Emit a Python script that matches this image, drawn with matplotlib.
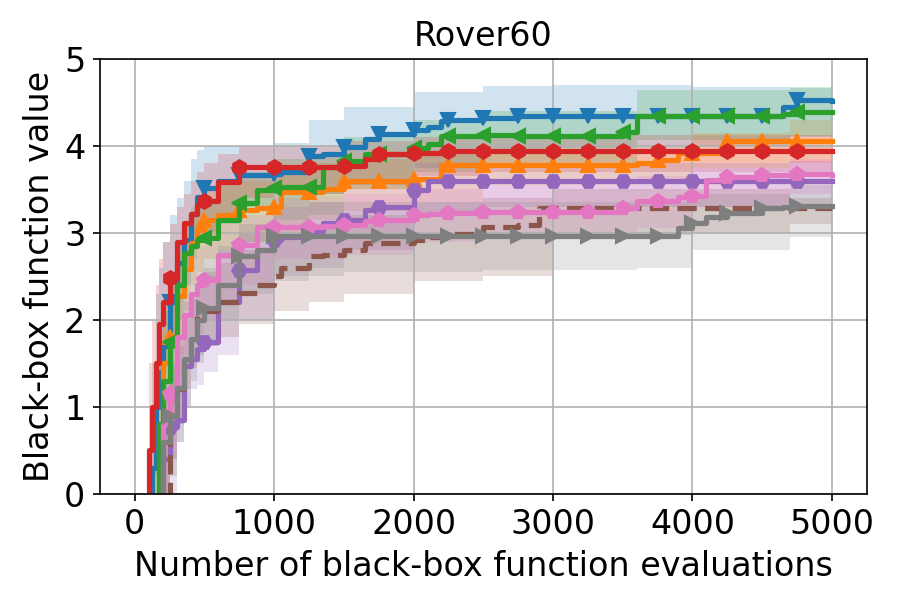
import numpy as np
import matplotlib
matplotlib.use("Agg")
import matplotlib.pyplot as plt

# evaluation checkpoints (step curves, value holds until next checkpoint)
evals = [0, 100, 125, 150, 175, 200, 250, 300, 350, 400, 450, 500, 600, 750, 875,
         1000, 1050, 1250, 1350, 1500, 1650, 1750, 2000, 2100, 2200, 2250, 2500,
         2750, 2900, 3000, 3250, 3500, 3600, 3750, 3900, 4000, 4100, 4250, 4500,
         4650, 4750, 5000]

blue_mean = [-3.0, -1.0, 0.3, 1.0, 1.4, 1.7, 2.20, 2.65, 2.92, 3.22, 3.41, 3.51, 3.60, 3.67, 3.67,
             3.68, 3.70, 3.88, 3.90, 3.99, 4.08, 4.13, 4.18, 4.22, 4.28, 4.30, 4.32,
             4.34, 4.34, 4.34, 4.34, 4.34, 4.34, 4.34, 4.34, 4.34, 4.34, 4.34, 4.34,
             4.45, 4.53, 4.51]
orange_mean = [-3.0, -2.0, -1.0, -0.5, 0.8, 1.5, 1.80, 2.27, 2.58, 2.88, 3.03, 3.15, 3.20, 3.26, 3.28,
               3.30, 3.47, 3.47, 3.50, 3.59, 3.59, 3.59, 3.62, 3.62, 3.78, 3.78, 3.78,
               3.78, 3.78, 3.78, 3.78, 3.78, 3.80, 3.84, 3.92, 3.92, 3.92, 4.05, 4.05,
               4.05, 4.05, 4.05]
green_mean = [-3.0, -2.0, -1.0, -0.2, 0.8, 1.3, 1.74, 2.40, 2.77, 2.85, 2.92, 2.94, 3.15, 3.34, 3.49,
              3.52, 3.53, 3.53, 3.76, 3.82, 3.90, 3.90, 3.98, 4.02, 4.11, 4.11, 4.12,
              4.11, 4.11, 4.11, 4.11, 4.16, 4.34, 4.34, 4.34, 4.34, 4.34, 4.34, 4.34,
              4.36, 4.39, 4.39]
red_mean = [-3.0, 0.5, 1.0, 1.5, 1.95, 2.2, 2.48, 2.90, 3.11, 3.22, 3.32, 3.36, 3.58, 3.76, 3.76,
            3.76, 3.76, 3.76, 3.76, 3.77, 3.85, 3.90, 3.92, 3.92, 3.94, 3.94, 3.94,
            3.94, 3.94, 3.94, 3.94, 3.94, 3.94, 3.94, 3.94, 3.94, 3.94, 3.94, 3.94,
            3.94, 3.94, 3.94]
purple_mean = [-3.0, -3.0, -2.0, -1.0, -0.2, 0.4, 0.77, 0.85, 1.47, 1.55, 1.66, 1.74, 2.20, 2.57, 2.80,
               2.92, 2.95, 3.02, 3.11, 3.15, 3.26, 3.30, 3.49, 3.59, 3.59, 3.59, 3.59,
               3.59, 3.59, 3.59, 3.59, 3.59, 3.59, 3.59, 3.59, 3.59, 3.59, 3.59, 3.59,
               3.59, 3.59, 3.59]
brown_mean = [-3.0, -3.0, -3.0, -2.0, -1.0, -0.2, 0.90, 1.20, 1.60, 1.85, 2.04, 2.10, 2.20, 2.31, 2.40,
              2.50, 2.60, 2.73, 2.75, 2.80, 2.88, 2.88, 2.92, 2.95, 2.98, 2.99, 3.07,
              3.09, 3.29, 3.29, 3.29, 3.29, 3.29, 3.29, 3.29, 3.29, 3.29, 3.29, 3.29,
              3.28, 3.28, 3.28]
pink_mean = [-3.0, -3.0, -2.0, -1.0, -0.1, 0.8, 1.15, 1.80, 2.05, 2.30, 2.40, 2.46, 2.74, 2.86, 3.07,
             3.07, 3.07, 3.07, 3.08, 3.09, 3.13, 3.15, 3.21, 3.22, 3.23, 3.23, 3.24,
             3.24, 3.24, 3.24, 3.24, 3.28, 3.36, 3.36, 3.41, 3.42, 3.61, 3.64, 3.66,
             3.67, 3.68, 3.67]
gray_mean = [-3.0, -3.0, -2.0, -1.5, -0.5, 0.6, 0.90, 1.22, 1.55, 1.78, 2.00, 2.14, 2.40, 2.73, 2.80,
             2.96, 2.96, 2.96, 2.96, 2.96, 2.96, 2.96, 2.96, 2.96, 2.96, 2.96, 2.96,
             2.96, 2.96, 2.96, 2.96, 2.96, 2.96, 2.96, 3.05, 3.11, 3.18, 3.23, 3.29,
             3.30, 3.31, 3.31]

# shaded spread (lower / upper edge)
band_evals = [0, 100, 125, 150, 175, 200, 250, 300, 350, 400, 450, 500, 600, 750,
              1000, 1250, 1500, 2000, 2500, 3000, 3600, 4000, 4700, 5000]

blue_lo = [-3, -2, -1, 0.0, 0.6, 1.0, 1.4, 2.0, 2.4, 2.7, 2.9, 3.0, 3.1, 3.3,
           3.3, 3.45, 3.55, 3.75, 3.95, 3.97, 3.97, 4.0, 4.1, 4.1]
blue_hi = [-1, 0.5, 1.5, 2.3, 2.6, 2.9, 3.2, 3.4, 3.6, 3.85, 3.95, 4.0, 4.0, 4.0,
           4.03, 4.3, 4.45, 4.62, 4.69, 4.7, 4.7, 4.68, 4.66, 4.66]
orange_lo = [-3, -3, -2, -1, 0.0, 0.5, 0.9, 1.6, 2.1, 2.4, 2.55, 2.7, 2.8, 2.9,
             3.0, 3.15, 3.25, 3.35, 3.55, 3.55, 3.6, 3.75, 3.8, 3.8]
orange_hi = [-1, -0.5, 0.5, 1.3, 1.9, 2.2, 2.5, 2.9, 3.1, 3.3, 3.4, 3.5, 3.55, 3.6,
             3.7, 3.8, 3.85, 3.9, 3.95, 3.95, 3.98, 4.15, 4.3, 4.3]
green_lo = [-3, -3, -2, -1, -0.2, 0.4, 1.0, 1.8, 2.1, 2.3, 2.4, 2.45, 2.7, 2.9,
            3.15, 3.2, 3.5, 3.7, 3.8, 3.8, 4.07, 4.07, 4.11, 4.11]
green_hi = [-1, -0.5, 0.3, 1.0, 1.7, 2.1, 2.5, 2.9, 3.1, 3.25, 3.35, 3.4, 3.55, 3.7,
            3.85, 3.9, 4.1, 4.3, 4.4, 4.4, 4.64, 4.64, 4.68, 4.68]
red_lo = [-3, -1, 0.2, 0.8, 1.2, 1.5, 1.8, 2.4, 2.6, 2.8, 2.9, 2.95, 3.2, 3.4,
          3.45, 3.45, 3.5, 3.65, 3.7, 3.7, 3.7, 3.7, 3.7, 3.7]
red_hi = [-1, 1.5, 2.0, 2.4, 2.7, 2.9, 3.1, 3.3, 3.45, 3.6, 3.7, 3.8, 3.9, 4.0,
          4.0, 4.0, 4.05, 4.1, 4.12, 4.12, 4.12, 4.12, 4.12, 4.12]
purple_lo = [-3, -3, -3, -2, -1, -0.5, 0.0, 0.6, 1.0, 1.2, 1.25, 1.4, 1.6, 2.0,
             2.5, 2.6, 2.8, 3.2, 3.3, 3.3, 3.3, 3.3, 3.3, 3.3]
purple_hi = [-1, -2, -1, 0.0, 0.6, 1.1, 1.5, 1.8, 2.2, 2.3, 2.4, 2.5, 2.8, 3.0,
             3.3, 3.35, 3.5, 3.8, 3.8, 3.8, 3.8, 3.8, 3.82, 3.82]
brown_lo = [-3, -3, -3, -3, -2, -1, 0.4, 0.8, 1.2, 1.45, 1.6, 1.7, 1.8, 1.95,
            2.1, 2.2, 2.3, 2.45, 2.5, 2.95, 2.98, 3.0, 3.1, 3.1]
brown_hi = [-1, -2, -2, -1, 0.0, 0.5, 1.4, 1.7, 2.0, 2.25, 2.45, 2.55, 2.65, 2.8,
            3.0, 3.1, 3.2, 3.35, 3.4, 3.5, 3.5, 3.5, 3.4, 3.4]
pink_lo = [-3, -3, -3, -2, -1, -0.3, 0.4, 1.2, 1.5, 1.75, 1.85, 2.0, 2.2, 2.4,
           2.7, 2.72, 2.75, 2.9, 2.95, 2.95, 3.05, 3.3, 3.45, 3.45]
pink_hi = [-1, -2, -1, 0.0, 0.8, 1.3, 1.8, 2.3, 2.6, 2.75, 2.85, 2.9, 3.1, 3.2,
           3.4, 3.42, 3.45, 3.5, 3.55, 3.55, 3.65, 3.75, 3.85, 3.85]
gray_lo = [-3, -3, -3, -2.5, -1.5, -0.5, 0.2, 0.6, 1.0, 1.3, 1.5, 1.7, 2.0, 2.3,
           2.45, 2.5, 2.55, 2.55, 2.57, 2.57, 2.6, 2.8, 2.95, 2.95]
gray_hi = [-1, -2, -1, -0.5, 0.3, 1.0, 1.5, 1.8, 2.1, 2.3, 2.5, 2.6, 2.85, 3.1,
           3.3, 3.35, 3.35, 3.35, 3.35, 3.35, 3.35, 3.45, 3.55, 3.55]

series = [
    (blue_mean, blue_lo, blue_hi, "tab:blue", "v", "-"),
    (orange_mean, orange_lo, orange_hi, "tab:orange", "^", "-"),
    (green_mean, green_lo, green_hi, "tab:green", "<", "-"),
    (red_mean, red_lo, red_hi, "tab:red", "h", "-"),
    (purple_mean, purple_lo, purple_hi, "tab:purple", "H", "-"),
    (brown_mean, brown_lo, brown_hi, "tab:brown", None, "--"),
    (pink_mean, pink_lo, pink_hi, "tab:pink", "p", "-"),
    (gray_mean, gray_lo, gray_hi, "tab:gray", ">", "-"),
]

x = np.array(evals)
marks = [i for i, e in enumerate(evals) if e % 250 == 0 and 0 < e < 5000]

fig, ax = plt.subplots(figsize=(6, 4), dpi=150)
fs = 16

for mean, lo, hi, color, marker, ls in series:
    ax.fill_between(band_evals, lo, hi, step="post", color=color, alpha=0.2, linewidth=0)
    ax.plot(x, mean, drawstyle="steps-post", color=color, linestyle=ls, linewidth=2.5,
            marker=marker, markersize=7, markevery=marks)

ax.set_ylim(0, 5)
ax.set_xlim(-250, 5250)
ax.set_xticks([0, 1000, 2000, 3000, 4000, 5000])
ax.set_yticks([0, 1, 2, 3, 4, 5])
ax.tick_params(labelsize=fs)
ax.grid(True)
ax.set_title("Rover60", fontsize=fs)
ax.set_xlabel("Number of black-box function evaluations", fontsize=fs)
ax.set_ylabel("Black-box function value", fontsize=fs)

plt.subplots_adjust(left=0.111, right=0.963, bottom=0.177, top=0.902)
plt.savefig("out.png", dpi=150)
